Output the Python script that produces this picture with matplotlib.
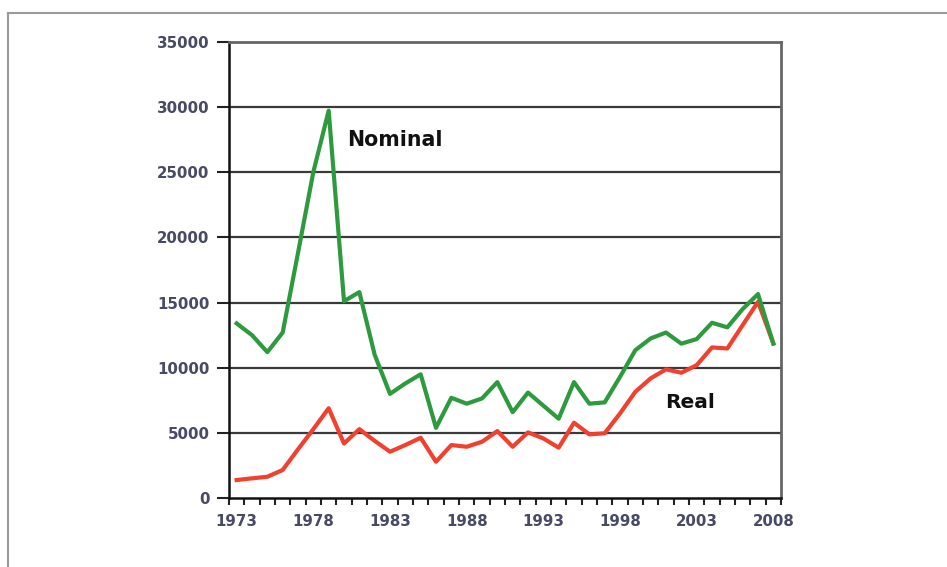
import matplotlib
matplotlib.use("Agg")
import matplotlib.pyplot as plt
from matplotlib.lines import Line2D
import numpy as np

years = list(range(1973, 2009))
nominal = [13400, 12500, 11200, 12700, 18800, 25000, 29700, 15100, 15800, 11000,
           8000, 8800, 9500, 5400, 7700, 7250, 7650, 8900, 6600, 8100,
           7100, 6100, 8900, 7250, 7350, 9300, 11350, 12250, 12700, 11850,
           12200, 13450, 13100, 14500, 15650, 11850]
real = [1400, 1530, 1650, 2170, 3750, 5300, 6900, 4200, 5300, 4400,
        3570, 4080, 4640, 2800, 4080, 3950, 4330, 5150, 3950, 5050,
        4590, 3880, 5790, 4900, 4980, 6500, 8160, 9190, 9880, 9620,
        10200, 11560, 11480, 13270, 15050, 11870]
y_ticks = [0, 5000, 10000, 15000, 20000, 25000, 30000, 35000]
x_label_years = [1973, 1978, 1983, 1988, 1993, 1998, 2003, 2008]

green = "#2e9a3e"
red = "#f2402e"
tick_color = "#484a66"

fig = plt.figure(figsize=(9.47, 5.67), dpi=100)
ax = fig.add_axes([229/947, 1-498.3/567, (781-229)/947, (498.3-41.5)/567])

ax.plot(years, real, color=red, lw=3.0, solid_joinstyle="round", zorder=3)
ax.plot(years, nominal, color=green, lw=3.0, solid_joinstyle="round", zorder=4)

ax.set_xlim(years[0]-0.5, years[-1]+0.5)
ax.set_ylim(0, 35000)

ax.set_yticks(y_ticks)
ax.set_yticklabels([str(v) for v in y_ticks])
for v in y_ticks[1:]:
    ax.axhline(v, color="#3a3a3a", lw=1.6, zorder=1)

# boundary ticks between categories
ax.set_xticks(np.arange(years[0]-0.5, years[-1]+0.51, 1.0))
ax.set_xticklabels([])
ax.set_xticks(x_label_years, minor=True)
ax.set_xticklabels([str(v) for v in x_label_years], minor=True)
ax.tick_params(axis="x", which="major", length=5, width=1.5, color="#222222", direction="out")
ax.tick_params(axis="x", which="minor", length=0, pad=11)
ax.tick_params(axis="y", length=9, width=1.5, color="#222222", direction="out", pad=5)

for lab in ax.get_xticklabels(minor=True) + ax.get_yticklabels():
    lab.set_fontfamily("DejaVu Sans")
    lab.set_fontweight("bold")
    lab.set_fontsize(10.8)
    lab.set_color(tick_color)

ax.spines["left"].set_color("#111111")
ax.spines["left"].set_linewidth(1.8)
ax.spines["bottom"].set_color("#111111")
ax.spines["bottom"].set_linewidth(1.8)
ax.spines["top"].set_color("#666666")
ax.spines["top"].set_linewidth(2.0)
ax.spines["right"].set_color("#666666")
ax.spines["right"].set_linewidth(2.0)

ax.text(347/947, 1-138.5/567, "Nominal", transform=fig.transFigure, fontsize=14.8,
        fontweight="bold", family="DejaVu Sans", color="#111111", ha="left", va="center_baseline")
ax.text(665/947, 1-401/567, "Real", transform=fig.transFigure, fontsize=14.5,
        fontweight="bold", family="DejaVu Sans", color="#111111", ha="left", va="center_baseline")

# outer frame lines (left and top)
fig.add_artist(Line2D([8/947, 8/947], [0, 1-13/567], transform=fig.transFigure, color="#9a9a9a", lw=1.5))
fig.add_artist(Line2D([8/947, 1], [1-13/567, 1-13/567], transform=fig.transFigure, color="#9a9a9a", lw=1.5))

fig.savefig("out.png", dpi=100)
